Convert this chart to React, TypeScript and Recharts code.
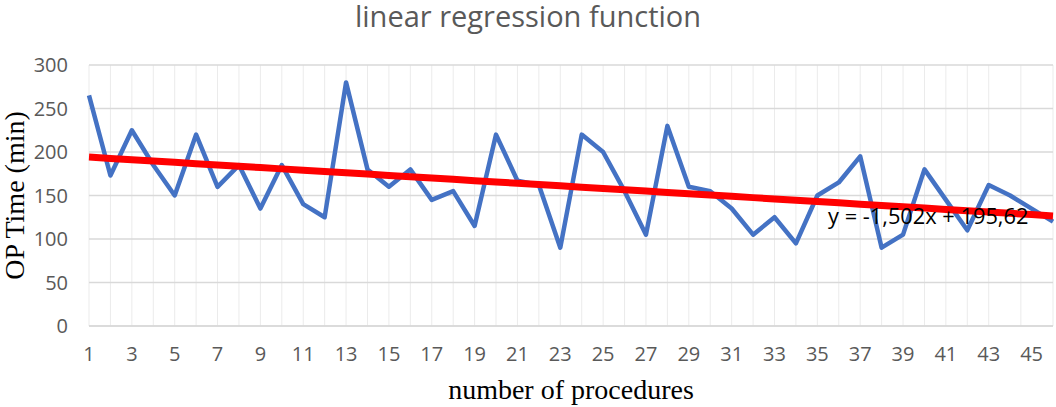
import { LineChart, Line, XAxis, YAxis, CartesianGrid, ReferenceDot } from "recharts";

const procedures = [
  1, 2, 3, 4, 5, 6, 7, 8, 9, 10, 11, 12, 13, 14, 15, 16, 17, 18, 19, 20, 21, 22, 23,
  24, 25, 26, 27, 28, 29, 30, 31, 32, 33, 34, 35, 36, 37, 38, 39, 40, 41, 42, 43, 44, 45, 46,
];

const opTime = [
  265, 173, 225, 185, 150, 220, 160, 185, 135, 185,
  140, 125, 280, 180, 160, 180, 145, 155, 115, 220,
  167, 162, 90, 220, 200, 155, 105, 230, 160, 155,
  135, 105, 125, 95, 150, 165, 195, 90, 105, 180,
  145, 110, 162, 150, 135, 120,
];

// trendline shown in the chart: y = -1,502x + 195,62
const TREND_SLOPE = -1.502;
const TREND_INTERCEPT = 195.62;
const TREND_LABEL = "y = -1,502x + 195,62";

const xTicks = [1, 3, 5, 7, 9, 11, 13, 15, 17, 19, 21, 23, 25, 27, 29, 31, 33, 35, 37, 39, 41, 43, 45];
const yTicks = [0, 50, 100, 150, 200, 250, 300];
// minor vertical gridlines every half category
const minorTicks = Array.from({ length: 91 }, (_, i) => 1 + i * 0.5);

const data = procedures.map((n, i) => ({
  n,
  time: opTime[i],
  trend: TREND_SLOPE * n + TREND_INTERCEPT,
}));

const TICK_STYLE = { fontSize: 20, fill: "#595959", fontFamily: "'Open Sans', sans-serif" };
const SERIF = "'Liberation Serif', 'DejaVu Serif', serif";

export default function App() {
  return (
    <div style={{ position: "absolute", left: 0, top: 0, width: 1056, height: 407, background: "#fff" }}>
      <div
        style={{
          position: "absolute",
          left: 0,
          top: 1,
          width: 1056,
          textAlign: "center",
          fontFamily: "'Open Sans', sans-serif",
          fontSize: 29,
          lineHeight: "29px",
          color: "#595959",
        }}
      >
        linear regression function
      </div>
      <LineChart width={1056} height={407} data={data} margin={{ top: 65, right: 3, bottom: 0, left: 0 }}>
        <CartesianGrid xAxisId="minor" horizontal={false} stroke="#ebebeb" strokeWidth={1} />
        <CartesianGrid vertical={false} stroke="#d9d9d9" strokeWidth={1.5} />
        <XAxis
          xAxisId="minor"
          type="number"
          dataKey="n"
          domain={[1, 46]}
          ticks={minorTicks}
          hide
        />
        <XAxis
          type="number"
          dataKey="n"
          domain={[1, 46]}
          ticks={xTicks}
          interval={0}
          height={81}
          axisLine={{ stroke: "#d9d9d9", strokeWidth: 1.5 }}
          tickLine={false}
          tickMargin={15}
          tick={TICK_STYLE}
          label={{
            value: "number of procedures",
            position: "insideBottom",
            offset: 8,
            fill: "#000",
            fontSize: 28,
            fontFamily: SERIF,
          }}
        />
        <YAxis
          width={89}
          domain={[0, 300]}
          ticks={yTicks}
          axisLine={false}
          tickLine={false}
          tickMargin={15}
          tick={TICK_STYLE}
          label={{
            value: "OP Time (min)",
            angle: -90,
            position: "insideLeft",
            offset: 14,
            textAnchor: "middle",
            fill: "#000",
            fontSize: 28,
            fontFamily: SERIF,
          }}
        />
        <Line
          dataKey="time"
          stroke="#4472C4"
          strokeWidth={4.5}
          strokeLinejoin="round"
          dot={false}
          isAnimationActive={false}
        />
        <Line
          dataKey="trend"
          stroke="#FF0000"
          strokeWidth={7}
          dot={false}
          isAnimationActive={false}
        />
        <ReferenceDot
          x={35.5}
          y={126}
          r={0}
          fill="none"
          stroke="none"
          label={{
            value: TREND_LABEL,
            position: "right",
            offset: 0,
            fill: "#000",
            fontSize: 21.8,
            fontFamily: "'Open Sans', sans-serif",
          }}
        />
      </LineChart>
    </div>
  );
}
